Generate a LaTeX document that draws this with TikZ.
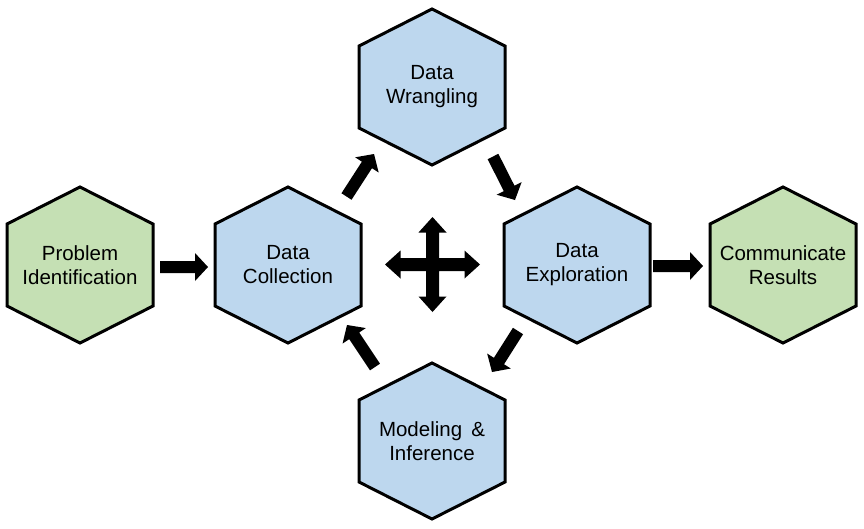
\documentclass[tikz,border=0pt]{standalone}
\usepackage{fontspec}
\setmainfont{Liberation Sans}
\usetikzlibrary{calc}
\definecolor{hexgreen}{HTML}{C5E0B4}
\definecolor{hexblue}{HTML}{BDD7EE}
\tikzset{
  hexline/.style={draw=black, line width=3pt, line join=miter},
  hextext/.style={align=center, inner sep=0pt, font=\fontsize{20.5}{24}\selectfont, text=black},
  blockarrow/.style={fill=black},
}
\newcommand\hexag[4]{%
  \draw[hexline, fill=#3] ([shift={(0,-78)}]#2) -- ([shift={(73,-41)}]#2) -- ([shift={(73,41)}]#2) -- ([shift={(0,78)}]#2) -- ([shift={(-73,41)}]#2) -- ([shift={(-73,-41)}]#2) -- cycle;
  \node[hextext] (#1) at (#2) {#4};
}
\newcommand\blockarr[2]{%
  \coordinate (hb) at ($(#2)!13pt!(#1)$);
  \fill[blockarrow] ($(#1)!6pt!90:(#2)$) -- ($(hb)!6pt!90:(#2)$) -- ($(hb)!14pt!90:(#2)$) -- (#2)
    -- ($(hb)!14pt!-90:(#2)$) -- ($(hb)!6pt!-90:(#2)$) -- ($(#1)!6pt!-90:(#2)$) -- cycle;
}
\begin{document}
\begin{tikzpicture}[x=1pt,y=-1pt]
\useasboundingbox (0,0) rectangle (864,528);
\hexag{pi}{80,265}{hexgreen}{Problem\\Identification}
\hexag{dc}{288,265}{hexblue}{Data\\Collection}
\hexag{dw}{432,87}{hexblue}{Data\\Wrangling}
\hexag{de}{577,265}{hexblue}{Data\\Exploration}
\hexag{cr}{783,265}{hexgreen}{Communicate\\Results}
\hexag{mi}{432,441}{hexblue}{Modeling \,\&\\Inference}
% block arrows
\coordinate (a1s) at (160,267); \coordinate (a1e) at (208,267);
\coordinate (a2s) at (653,266); \coordinate (a2e) at (703,266);
\coordinate (a3s) at (346.5,196.5); \coordinate (a3e) at (374,154);
\coordinate (a4s) at (493,156.5); \coordinate (a4e) at (515,200);
\coordinate (a5s) at (518,331); \coordinate (a5e) at (492,372);
\coordinate (a6s) at (375,367); \coordinate (a6e) at (347,325);
\blockarr{a1s}{a1e}
\blockarr{a2s}{a2e}
\blockarr{a3s}{a3e}
\blockarr{a4s}{a4e}
\blockarr{a5s}{a5e}
\blockarr{a6s}{a6e}
% four-way arrow
\coordinate (cross) at (432.5,264.5);
\begin{scope}[shift={(cross)}]
\fill[blockarrow] (47.5,0) -- (32,14) -- (32,6.5) -- (6.5,6.5) -- (6.5,32) -- (14,32) -- (0,47.5)
  -- (-14,32) -- (-6.5,32) -- (-6.5,6.5) -- (-32,6.5) -- (-32,14) -- (-47.5,0)
  -- (-32,-14) -- (-32,-6.5) -- (-6.5,-6.5) -- (-6.5,-32) -- (-14,-32) -- (0,-47.5)
  -- (14,-32) -- (6.5,-32) -- (6.5,-6.5) -- (32,-6.5) -- (32,-14) -- cycle;
\end{scope}
\end{tikzpicture}
\end{document}
